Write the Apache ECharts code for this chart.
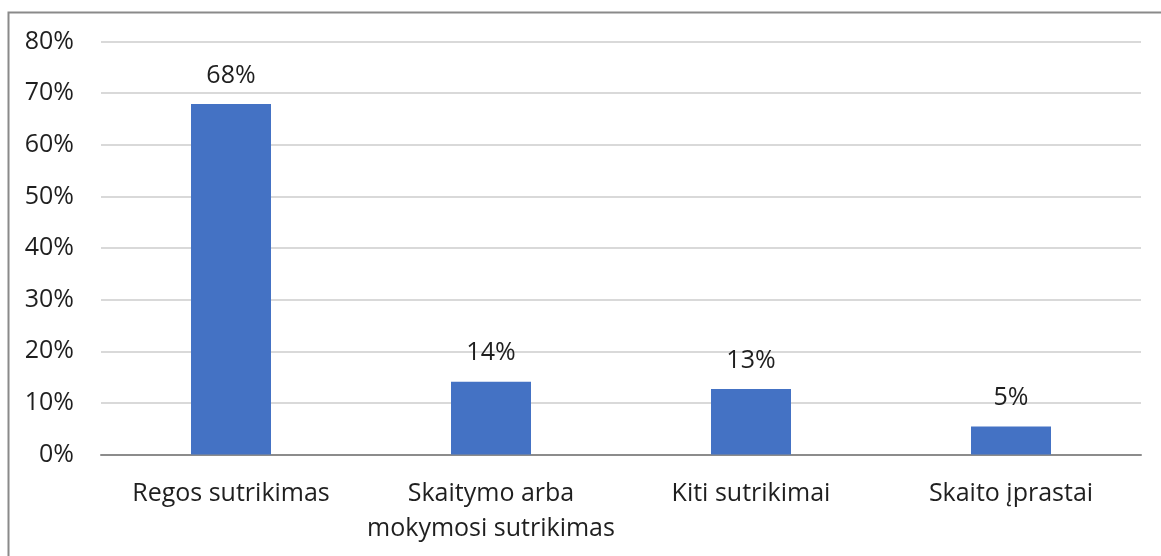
<!DOCTYPE html>
<html>
<head>
<meta charset="utf-8">
<script src="https://cdn.jsdelivr.net/npm/echarts@6/dist/echarts.min.js"></script>
<style>
html,body{margin:0;padding:0;background:#fff;}
#c{width:1161px;height:556px;}
</style>
</head>
<body>
<div id="c"></div>
<script>
const categories = ['Regos sutrikimas', 'Skaitymo arba\nmokymosi sutrikimas', 'Kiti sutrikimai', 'Skaito įprastai'];
const values = [67.9, 14.1, 12.7, 5.4];
const yTicks = [0, 10, 20, 30, 40, 50, 60, 70, 80];

const FONT = '"Open Sans", "Noto Sans", sans-serif';
const TXT = '#1f1f1f';
const chart = echarts.init(document.getElementById('c'), null, {renderer: 'canvas'});
chart.setOption({
  animation: false,
  backgroundColor: '#fff',
  graphic: [{
    type: 'rect', left: 6, top: 10, silent: true,
    shape: {x: 0, y: 0, width: 1200, height: 600},
    style: {fill: 'none', stroke: '#8a8a8a', lineWidth: 2}
  }],
  grid: {left: 101, right: 20, top: 41.5, bottom: 101.5, containLabel: false},
  xAxis: {
    type: 'category', data: categories,
    axisTick: {show: false},
    axisLine: {lineStyle: {color: '#8c8c8c', width: 2}},
    axisLabel: {color: TXT, fontFamily: FONT, fontSize: 25, lineHeight: 35, margin: 22, interval: 0}
  },
  yAxis: {
    type: 'value', min: yTicks[0], max: yTicks[yTicks.length - 1], interval: 10,
    axisLine: {show: false}, axisTick: {show: false},
    splitLine: {lineStyle: {color: '#d9d9d9', width: 2}},
    axisLabel: {color: TXT, fontFamily: FONT, fontSize: 25, margin: 27, formatter: v => v + '%'}
  },
  series: [{
    type: 'bar', data: values, barWidth: 80,
    itemStyle: {color: '#4472C4'},
    label: {show: true, position: 'top', distance: 16, color: TXT, fontFamily: FONT, fontSize: 25,
      formatter: p => Math.round(p.value) + '%'}
  }]
});
</script>
</body>
</html>
